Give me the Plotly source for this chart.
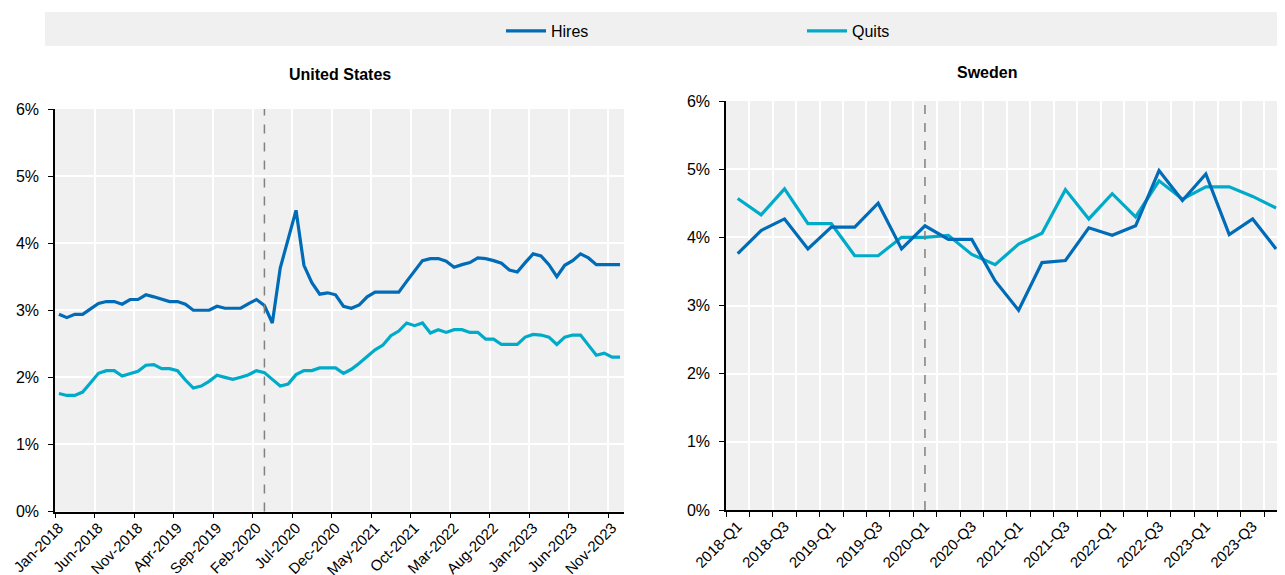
import plotly.graph_objects as go

# ---------------- data ----------------
month_names = ["Jan", "Feb", "Mar", "Apr", "May", "Jun", "Jul", "Aug", "Sep", "Oct", "Nov", "Dec"]
us_months = [f"{m}-{y}" for y in range(2018, 2024) for m in month_names]

us_hires = [2.94, 2.89, 2.94, 2.94, 3.02, 3.10, 3.13, 3.13, 3.09, 3.16, 3.16, 3.23,
            3.20, 3.16, 3.13, 3.13, 3.09, 3.00, 3.00, 3.00, 3.06, 3.03, 3.03, 3.03,
            3.10, 3.16, 3.07, 2.81, 3.63, 4.06, 4.49, 3.67, 3.41, 3.24, 3.26, 3.23,
            3.06, 3.03, 3.08, 3.20, 3.27, 3.27, 3.27, 3.27, 3.43, 3.59, 3.74, 3.77,
            3.77, 3.73, 3.64, 3.68, 3.71, 3.78, 3.77, 3.74, 3.70, 3.60, 3.57, 3.71,
            3.84, 3.81, 3.68, 3.50, 3.67, 3.74, 3.84, 3.78, 3.68, 3.68, 3.68, 3.68]

us_quits = [1.76, 1.73, 1.73, 1.78, 1.92, 2.06, 2.10, 2.10, 2.02, 2.06, 2.09, 2.18,
            2.19, 2.13, 2.13, 2.10, 1.96, 1.84, 1.87, 1.94, 2.03, 2.00, 1.97, 2.00,
            2.04, 2.10, 2.07, 1.97, 1.87, 1.90, 2.04, 2.10, 2.10, 2.14, 2.14, 2.14,
            2.06, 2.12, 2.21, 2.31, 2.41, 2.48, 2.62, 2.69, 2.81, 2.77, 2.81, 2.66,
            2.71, 2.67, 2.71, 2.71, 2.67, 2.67, 2.57, 2.57, 2.49, 2.49, 2.49, 2.60,
            2.64, 2.63, 2.60, 2.49, 2.60, 2.63, 2.63, 2.48, 2.33, 2.36, 2.30, 2.30]

se_quarters = [f"{y}-Q{q}" for y in range(2018, 2024) for q in range(1, 5)]
se_tick_labels = [lab if i % 2 == 0 else "" for i, lab in enumerate(se_quarters)]

se_hires = [3.76, 4.10, 4.27, 3.83, 4.15, 4.15, 4.50, 3.83, 4.17, 3.97, 3.97, 3.36,
            2.93, 3.63, 3.66, 4.14, 4.03, 4.17, 4.98, 4.54, 4.93, 4.04, 4.27, 3.83]
se_quits = [4.57, 4.33, 4.71, 4.20, 4.20, 3.73, 3.73, 4.00, 4.00, 4.03, 3.75, 3.60,
            3.90, 4.06, 4.70, 4.27, 4.64, 4.30, 4.83, 4.56, 4.74, 4.74, 4.60, 4.43]

us_covid_marker = "Mar-2020"
se_covid_marker = "2020-Q1"

y_tick_vals = [0, 1, 2, 3, 4, 5, 6]
y_tick_text = ["0%", "1%", "2%", "3%", "4%", "5%", "6%"]

# ---------------- style ----------------
HIRES_COLOR = "#006bb6"
QUITS_COLOR = "#00abc9"
PANEL_BG = "#f0f0f0"
FONT = "Liberation Sans Narrow, Arial Narrow, Liberation Sans, Arial, sans-serif"

# page body has an 8px margin: target positions below are given in screen pixels
OFF = 8
W, H = 1285 - 2 * OFF, 575 - OFF
L, R, T = 55 - OFF, 0, 100 - OFF
B = H - (512 - OFF)
pw, ph = W - L - R, H - T - B


def px_x(p):
    return (p - OFF - L) / pw


def px_y(p):
    return (H - B - (p - OFF)) / ph


fig = go.Figure()

fig.add_trace(go.Scatter(x=us_months, y=us_hires, mode="lines", name="Hires",
                         line=dict(color=HIRES_COLOR, width=3.2), legendgroup="h",
                         xaxis="x", yaxis="y"))
fig.add_trace(go.Scatter(x=us_months, y=us_quits, mode="lines", name="Quits",
                         line=dict(color=QUITS_COLOR, width=3.2), legendgroup="q",
                         xaxis="x", yaxis="y"))
fig.add_trace(go.Scatter(x=se_quarters, y=se_quits, mode="lines", name="Quits",
                         line=dict(color=QUITS_COLOR, width=3.2), legendgroup="q",
                         showlegend=False, xaxis="x2", yaxis="y2"))
fig.add_trace(go.Scatter(x=se_quarters, y=se_hires, mode="lines", name="Hires",
                         line=dict(color=HIRES_COLOR, width=3.2), legendgroup="h",
                         showlegend=False, xaxis="x2", yaxis="y2"))

common_x = dict(type="category", tickson="boundaries", showgrid=True, gridcolor="white",
                gridwidth=1.5, showline=True, linecolor="black", linewidth=1.5,
                ticks="outside", ticklen=5, tickcolor="black", tickangle=-45,
                tickfont=dict(size=15, color="black"), automargin=False, zeroline=False)
common_y = dict(range=[0, 6], tickmode="array", tickvals=y_tick_vals, ticktext=y_tick_text,
                showgrid=True, gridcolor="white", gridwidth=1.5, showline=True,
                linecolor="black", linewidth=1.5, ticks="outside", ticklen=5,
                tickcolor="black", tickfont=dict(size=16, color="black"),
                automargin=False, zeroline=False, ticklabelstandoff=6)

fig.update_layout(
    width=W, height=H,
    margin=dict(l=L, r=R, t=T, b=B, autoexpand=False),
    paper_bgcolor="white", plot_bgcolor=PANEL_BG,
    font=dict(family=FONT, color="black"),
    xaxis=dict(common_x, domain=[px_x(55), px_x(624)], anchor="y",
               range=[-0.5, len(us_months) - 0.5], dtick=5, tick0=0),
    yaxis=dict(common_y, domain=[px_y(511.5), px_y(109)], anchor="x"),
    xaxis2=dict(common_x, domain=[px_x(726), 1.0], anchor="y2",
                range=[-0.5, len(se_quarters) - 0.96],
                tickmode="array", tickvals=se_quarters, ticktext=se_tick_labels),
    yaxis2=dict(common_y, domain=[px_y(510), px_y(101)], anchor="x2"),
    showlegend=True,
    legend=dict(orientation="h", x=px_x(501), xanchor="left", y=px_y(31), yanchor="middle",
                bgcolor="rgba(0,0,0,0)", font=dict(size=16, color="black"),
                entrywidth=246, entrywidthmode="pixels", itemwidth=40),
)

# legend band
fig.add_shape(type="rect", xref="paper", yref="paper", x0=px_x(45), x1=1.0,
              y0=px_y(46), y1=px_y(12), fillcolor=PANEL_BG, line=dict(width=0), layer="below")

# COVID markers
fig.add_shape(type="line", xref="x", yref="y domain", x0=us_covid_marker, x1=us_covid_marker,
              y0=0, y1=1, line=dict(color="#808080", width=1.5, dash="dash"))
fig.add_shape(type="line", xref="x2", yref="y2 domain", x0=se_covid_marker, x1=se_covid_marker,
              y0=0, y1=1, line=dict(color="#808080", width=1.5, dash="dash"))

# panel titles
fig.add_annotation(text="<b>United States</b>", xref="paper", yref="paper",
                   x=px_x(340), y=px_y(75), xanchor="center", yanchor="middle",
                   showarrow=False, font=dict(size=16, color="black"))
fig.add_annotation(text="<b>Sweden</b>", xref="paper", yref="paper",
                   x=px_x(987), y=px_y(73), xanchor="center", yanchor="middle",
                   showarrow=False, font=dict(size=16, color="black"))

fig.write_html("out.html")
